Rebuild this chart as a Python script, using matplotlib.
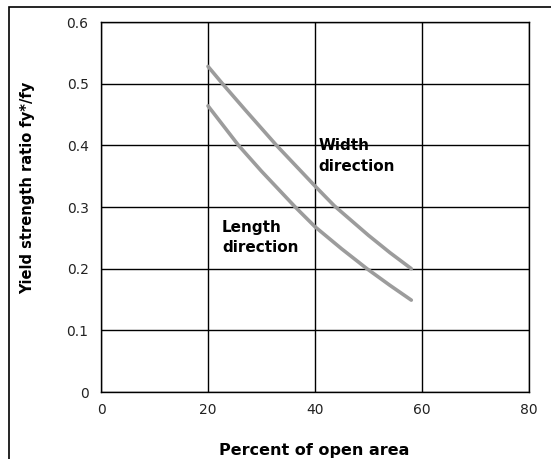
import matplotlib

matplotlib.use("Agg")
import matplotlib.pyplot as plt
from matplotlib.patches import Rectangle

# values
length_x = [20, 25.7, 30, 36.3, 40, 45, 49.7, 54, 58]
length_y = [0.464, 0.400, 0.358, 0.300, 0.268, 0.232, 0.200, 0.173, 0.149]
width_x = [20, 22.7, 27, 32.8, 40, 43.6, 50, 54, 58]
width_y = [0.528, 0.500, 0.457, 0.400, 0.334, 0.302, 0.254, 0.226, 0.200]

xticks = [0, 20, 40, 60, 80]
yticks = [0, 0.1, 0.2, 0.3, 0.4, 0.5, 0.6]
ytick_labels = ["0", "0.1", "0.2", "0.3", "0.4", "0.5", "0.6"]

W, H = 551, 459
fig = plt.figure(figsize=(W / 100, H / 100), dpi=100)
ax = fig.add_axes([101 / W, 1 - 392 / H, 428 / W, 370 / H])

# outer frame (runs off the right/bottom edge like the screenshot)
fig.patches.append(Rectangle((9 / W, -0.05), 1.0, 1 - 7 / H + 0.05,
                             transform=fig.transFigure, fill=False,
                             ec="black", lw=1.2))

ax.plot(width_x, width_y, color="#9c9c9c", lw=2.6, solid_capstyle="round", zorder=3)
ax.plot(length_x, length_y, color="#9c9c9c", lw=2.6, solid_capstyle="round", zorder=3)

ax.set_xlim(0, 80)
ax.set_ylim(0, 0.6)
ax.set_xticks(xticks)
ax.set_yticks(yticks)
ax.set_yticklabels(ytick_labels)
ax.tick_params(length=0, labelsize=10, pad=9, colors="#222222")
ax.tick_params(axis="x", pad=8)
ax.grid(True, color="black", lw=1.0)
ax.set_axisbelow(True)
for s in ax.spines.values():
    s.set_color("black")
    s.set_linewidth(1.0)

ax.set_xlabel("Percent of open area", fontsize=11.5, fontweight="bold")
ax.set_ylabel("Yield strength ratio fy*/fy", fontsize=10.5, fontweight="bold")
ax.xaxis.set_label_coords(0.497, -0.157)
ax.yaxis.set_label_coords(-0.171, 0.551)
ax.xaxis.label.set_va("center")
ax.yaxis.label.set_va("center")

ax.text(40.6, 0.383, "Width\ndirection", fontsize=11, fontweight="bold",
        va="center", ha="left", linespacing=1.45, zorder=4)
ax.text(22.6, 0.2505, "Length\ndirection", fontsize=11, fontweight="bold",
        va="center", ha="left", linespacing=1.45, zorder=4)

fig.savefig("out.png", dpi=100)
